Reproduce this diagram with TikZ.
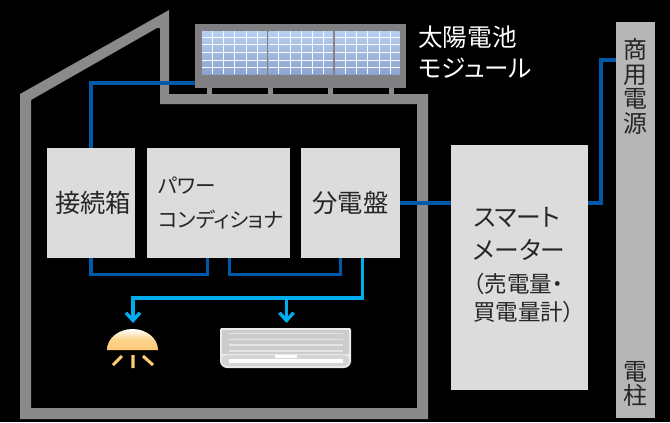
\documentclass[tikz,border=0pt]{standalone}
\usepackage{fontspec}
\setmainfont[RawFeature=+palt]{Noto Sans CJK JP}
\usetikzlibrary{arrows.meta,calc}
\definecolor{wallgray}{HTML}{8A8A8A}
\definecolor{boxgray}{HTML}{DCDCDC}
\definecolor{polegray}{HTML}{B6B6B6}
\definecolor{framegray}{HTML}{807F81}
\definecolor{darkline}{HTML}{0058A8}
\definecolor{lightline}{HTML}{00AEEF}
\definecolor{lampcol}{HTML}{FDCB77}
\definecolor{celltop}{HTML}{B7D0F0}
\definecolor{cellfoot}{HTML}{8CA4CE}
\newcommand\tightfont[2]{\fontsize{#1}{#2}\selectfont\lineskiplimit=-30pt\relax}
\tikzset{
  panelbox/.style={fill=boxgray,inner sep=0,text=black!85,font=\tightfont{18}{23.5},align=left},
  darkwire/.style={draw=darkline,line width=2.2pt,line join=miter},
  lightwire/.style={draw=lightline,line width=2.2pt,line join=miter},
  feedarrow/.style={lightwire,-{Straight Barb[length=5.5pt,width=10pt,line width=2.4pt]}},
  whitetext/.style={text=white,inner sep=0,font=\tightfont{17.5}{22},align=left},
  boxlabel/.style={text=black!85,inner sep=0,align=left},
  polelabel/.style={text=black!85,inner sep=0,font=\tightfont{17}{17.4},align=center},
}
% one glass module of the array
\newcommand\pvcell[1]{
  \begin{scope}[shift={(#1,31)}]
    \shade[top color=celltop,bottom color=cellfoot] (0,0) rectangle (64.5,43);
    \foreach \gx in {10,21.5,32.5,44,55}
      \draw[white!90!celltop,line width=0.7pt] (\gx,0) -- (\gx,43);
    \foreach \gy in {6,13,21,29,36}
      \draw[white!90!celltop,line width=0.7pt] (0,\gy) -- (64.5,\gy);
  \end{scope}}

\begin{document}
\begin{tikzpicture}[x=0.025cm,y=-0.025cm,>=Stealth]
\useasboundingbox (0,0) rectangle (670,422);
\fill[black] (0,0) rectangle (670,422);

% house
\fill[wallgray,even odd rule]
  (20,94) -- (169,10) -- (169,94) -- (428,94) -- (428,419) -- (20,419) -- cycle
  (31,100) -- (157,28) -- (160,28) -- (160,104) -- (417,104) -- (417,408) -- (31,408) -- cycle;

% solar array
\foreach \legx in {207,268,328,389}
  \fill[wallgray] (\legx,88) rectangle ++(5,6);
\node[fill=framegray,minimum width=5.275cm,minimum height=1.6cm,inner sep=0] (solar) at (300.5,56) {};
\pvcell{202}\pvcell{268.5}\pvcell{335}
\node[whitetext,anchor=west] (solartext) at (418,52.5) {太陽電池\\モジュール};

% equipment
\node[panelbox,minimum width=2.2cm,minimum height=2.75cm] (junction) at (91,203) {\hspace*{3pt}接続箱};
\node[panelbox,minimum width=3.575cm,minimum height=2.75cm] (inverter) at (218.5,203) {};
\node[boxlabel,font=\tightfont{14.6}{24},anchor=west] (invertertext) at (158,203) {パワー\\コンディショナ};
\node[panelbox,minimum width=2.475cm,minimum height=2.75cm] (breaker) at (350.5,203) {分電盤};
\node[panelbox,minimum width=3.425cm,minimum height=6.125cm] (meter) at (519.5,267.5) {};
\node[boxlabel,font=\tightfont{17.6}{23.5},anchor=west] (metertext) at (473,265)
  {スマート\\メーター\\[-0.5pt]{\tightfont{16}{23.5}（売電量・}\\[-3.5pt]{\tightfont{16}{23.5}買電量計）}};
\node[fill=polegray,minimum width=0.975cm,minimum height=9.9cm,inner sep=0] (pole) at (635.5,220) {};
\node[polelabel] (poletop) at (635.5,86.5) {商\\用\\電\\源};
\node[polelabel] (polefoot) at (635.5,384) {電\\柱};

% dark wires
\draw[darkwire] (solar.west |- 0,83) -| (junction.north);
\draw[darkwire] (junction.south) -- ++(0,16) -| ([xshift=-0.275cm]inverter.south);
\draw[darkwire] ([xshift=0.275cm]inverter.south) -- ++(0,16) -| ([xshift=-0.26cm]breaker.south);
\draw[darkwire] (breaker.east) -- (meter.west |- breaker.east);
\draw[darkwire] (meter.east |- breaker.east) -- (601,203) -- (601,60) -- (pole.west |- 0,60);

% light wires
\coordinate (lamptip) at (133,323);
\coordinate (airtip) at (286.5,323);
\draw[lightwire,-] ([xshift=0.3cm]breaker.south) |- (286.5,298);
\draw[feedarrow] (286.5,298) -- (lamptip |- 0,298) -- (lamptip);
\draw[feedarrow] (286.5,298) -- (airtip);

% lamp
\shade[top color=white,bottom color=lampcol,middle color=lampcol!85!white]
  (107,350) arc[start angle=180,end angle=360,x radius=25.5,y radius=21] -- cycle;
\draw[lampcol,line width=2.2pt] (133,355) -- (133,368) (122,356) -- (113,365) (143,356) -- (153,365);

% air conditioner
\fill[white!92!black,rounded corners=1pt] (220,328) -- (351,328) -- (351,362) [rounded corners=5pt] -- (351,368) -- (220,368) [rounded corners=1pt] -- cycle;
\fill[white!80!black] (222,330) rectangle (349,354);
\foreach \aily in {333.5,339.5,345,351}
  \draw[white!90!black,line width=1.1pt] (229,\aily) -- (343,\aily);
\fill[white!83!black,rounded corners=3pt] (222,355) rectangle (349,366);
\fill[white] (229,358.5) rectangle (343,363);
\fill[white] (275,355) rectangle (297,358);
\end{tikzpicture}
\end{document}
